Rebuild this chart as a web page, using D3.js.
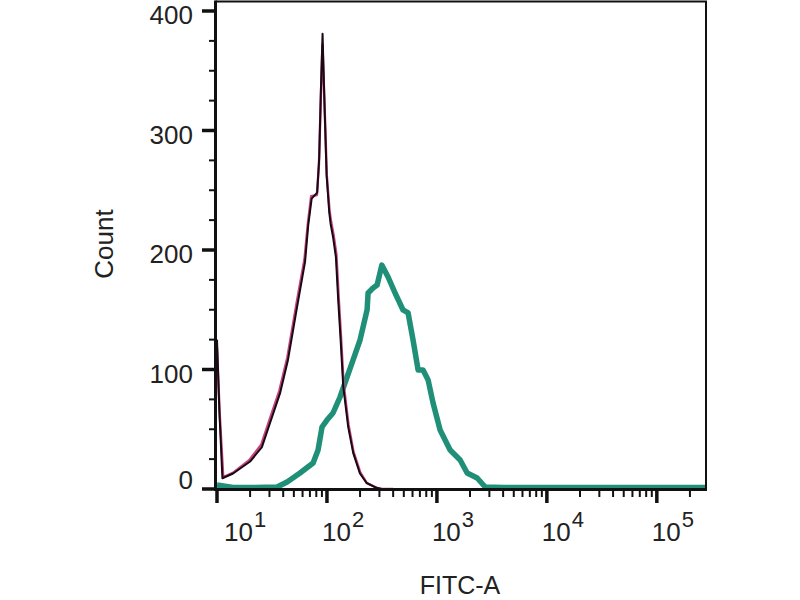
<!DOCTYPE html>
<html>
<head>
<meta charset="utf-8">
<script src="https://cdn.jsdelivr.net/npm/d3@7"></script>
<style>
  body { margin: 0; background: #fff; }
  text { font-family: "Liberation Sans", Arial, sans-serif; fill: #222; }
</style>
</head>
<body>
<script>
// FITC-A intensity (channel value) and event counts
const blackX = [10, 10.5, 11.2, 14.0, 20.0, 25.6, 30.3, 37.4, 44.2, 53.4, 63.2, 67.6, 72.6, 81.5, 85.0, 88.0, 91.2, 94.3, 99.2, 104.8, 107.9, 114.0, 120.6, 126.6, 133.1, 140.6, 156.0, 173.4, 199.5, 229.3, 282.5, 314, 400];
const blackY = [125, 66, 9, 13, 23, 35, 55, 80, 108, 152, 190, 221, 243, 248, 277, 332, 381, 332, 263, 232, 222, 210, 194, 158, 125, 86, 52, 30, 13, 5, 1, 0, 0];

const pinkX = [10, 10.6, 11.4, 14.2, 19.6, 25.2, 29.8, 36.8, 43.6, 52.8, 62.4, 67.0, 71.8, 81.0, 84.6, 87.8, 91.0, 94.6, 99.8, 105.6, 109.0, 115.2, 122.0, 128.0, 134.4, 141.8, 157.0, 174.6, 201.0, 231.0, 284.0, 316, 400];
const pinkY = [118, 62, 10, 14, 24, 37, 57, 82, 110, 155, 192, 222, 245, 246, 272, 325, 372, 328, 262, 233, 224, 212, 196, 160, 127, 88, 54, 31, 14, 5, 1, 0, 0];

const tealX = [10, 14.0, 22.2, 35.2, 43.4, 56.9, 74.8, 83.0, 90.2, 100, 113.5, 131.5, 152.4, 172.6, 200, 231.7, 236.6, 262.4, 285.8, 315.5, 359.7, 416.9, 492.0, 547.0, 606.7, 674.5, 748.2, 831.8, 922.6, 1069, 1318, 1626, 1884, 2323, 2748, 4000, 280000];
const tealY = [3.3, 1.2, 1.2, 1.7, 5.9, 13.4, 21.8, 32.6, 51.9, 57.7, 63.6, 77.0, 93.7, 107.9, 124.7, 149.8, 164.0, 168.2, 170.7, 187.4, 177.4, 164.0, 149.8, 147.3, 124.7, 99.6, 99.6, 91.2, 72.0, 49.4, 32.6, 24.3, 13.4, 9.2, 1.7, 1.2, 1.2];

const yTickLabels = [0, 100, 200, 300, 400];
const xDecades = [10, 100, 1000, 10000, 100000];
const xExponents = ["1", "2", "3", "4", "5"];

const width = 800, height = 600;
const pLeft = 217, pRight = 706, pTop = 1, pBottom = 489;

const svg = d3.select('body').append('svg').attr('width', width).attr('height', height);

const x = d3.scaleLog().domain([10, 280000]).range([pLeft, pRight]);
const y = d3.scaleLinear().domain([0, 400]).range([pBottom, 11]);

svg.append('clipPath').attr('id', 'plot')
  .append('rect').attr('x', pLeft).attr('y', pTop).attr('width', pRight - pLeft).attr('height', pBottom - pTop + 2);

const line = d3.line().x(d => x(d[0])).y(d => y(d[1]));

const g = svg.append('g').attr('clip-path', 'url(#plot)');

g.append('path').datum(d3.zip(tealX, tealY))
  .attr('d', line).attr('fill', 'none')
  .attr('stroke', '#1f8f78').attr('stroke-width', 5.5).attr('stroke-linejoin', 'round');

g.append('path').datum(d3.zip(pinkX, pinkY))
  .attr('d', line).attr('fill', 'none')
  .attr('stroke', '#c4437f').attr('stroke-width', 2.4).attr('stroke-linejoin', 'round');

g.append('path').datum(d3.zip(blackX, blackY))
  .attr('d', line).attr('fill', 'none')
  .attr('stroke', '#1a0812').attr('stroke-width', 2).attr('stroke-linejoin', 'round');

// frame
svg.append('line').attr('x1', pLeft - 1.5).attr('x2', pRight + 1).attr('y1', pTop + 0.5).attr('y2', pTop + 0.5)
  .attr('stroke', '#111').attr('stroke-width', 2);
svg.append('line').attr('x1', pRight).attr('x2', pRight).attr('y1', pTop).attr('y2', pBottom)
  .attr('stroke', '#111').attr('stroke-width', 2);
svg.append('line').attr('x1', pLeft - 1.5).attr('x2', pLeft - 1.5).attr('y1', pTop - 0.5).attr('y2', pBottom + 1.5)
  .attr('stroke', '#111').attr('stroke-width', 3);
svg.append('line').attr('x1', pLeft - 3).attr('x2', pRight + 1).attr('y1', pBottom + 0.5).attr('y2', pBottom + 0.5)
  .attr('stroke', '#111').attr('stroke-width', 3);

// y ticks
svg.append('g').selectAll('line').data(d3.range(0, 401, 25)).enter().append('line')
  .attr('x1', d => d % 100 === 0 ? pLeft - 15 : pLeft - 8)
  .attr('x2', pLeft - 2)
  .attr('y1', d => y(d)).attr('y2', d => y(d))
  .attr('stroke', '#111').attr('stroke-width', d => d % 100 === 0 ? 3.5 : 2);

svg.append('g').selectAll('text').data(yTickLabels).enter().append('text')
  .attr('x', 193)
  .attr('y', d => d === 0 ? y(d) - 9 : y(d) + 4)
  .attr('dy', '0.35em')
  .attr('text-anchor', 'end')
  .attr('font-size', 26)
  .text(d => d);

// x ticks
const isDecade = d => Math.abs(Math.log10(d) - Math.round(Math.log10(d))) < 1e-9;
svg.append('g').selectAll('line').data(x.ticks()).enter().append('line')
  .attr('x1', d => x(d)).attr('x2', d => x(d))
  .attr('y1', pBottom + 1)
  .attr('y2', d => isDecade(d) ? pBottom + 14 : pBottom + 8)
  .attr('stroke', '#111').attr('stroke-width', d => isDecade(d) ? 3.5 : 2);

const xl = svg.append('g').selectAll('text').data(xDecades).enter().append('text')
  .attr('x', (d, i) => i === 0 ? x(d) + 7 : x(d) - 5)
  .attr('y', 541)
  .attr('font-size', 26);
xl.append('tspan').text('10');
xl.append('tspan').attr('dy', -14).attr('dx', 1).attr('font-size', 22).text((d, i) => xExponents[i]);

svg.append('text')
  .attr('x', 460).attr('y', 594)
  .attr('text-anchor', 'middle')
  .attr('font-size', 25)
  .text('FITC-A');

svg.append('text')
  .attr('transform', 'translate(113,244) rotate(-90)')
  .attr('text-anchor', 'middle')
  .attr('font-size', 26)
  .text('Count');
</script>
</body>
</html>
